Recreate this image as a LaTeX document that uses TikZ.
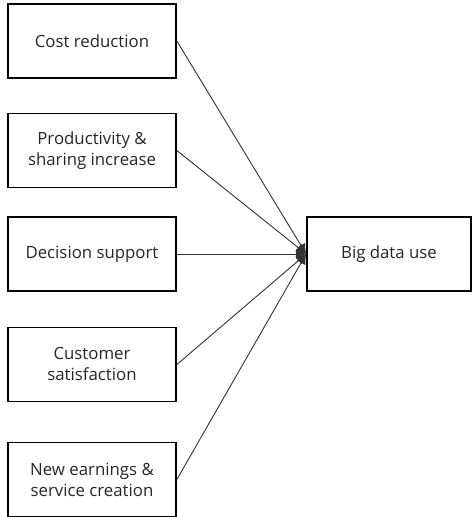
\documentclass[tikz,border=0pt]{standalone}
\usepackage{fontspec}
\setmainfont{Open Sans}
\usetikzlibrary{arrows.meta}
\begin{document}
\begin{tikzpicture}[x=1pt,y=1pt,
  box/.style={draw=black,line width=1.7pt,minimum width=168pt,minimum height=74pt,inner sep=0pt,align=center,font=\fontsize{16.8}{21}\selectfont,text=black!85},
  link/.style={draw=black!80,line width=0.9pt,-{Latex[length=10pt,width=10pt]}}]
\useasboundingbox (0,0) rectangle (472,517);
\node[box] (a) at (92,517-41) {Cost reduction};
\node[box] (b) at (92,517-150.5) {Productivity \&\\sharing increase};
\node[box] (c) at (92,517-254) {Decision support};
\node[box] (d) at (92,517-364.5) {Customer\\satisfaction};
\node[box] (e) at (92,517-479.5) {New earnings \&\\service creation};
\node[box,minimum width=164pt] (f) at (389,517-254) {Big data use};
\foreach \n in {a,b,c,d,e}{\draw[link] (\n.east) -- (f.west);}
\end{tikzpicture}
\end{document}
